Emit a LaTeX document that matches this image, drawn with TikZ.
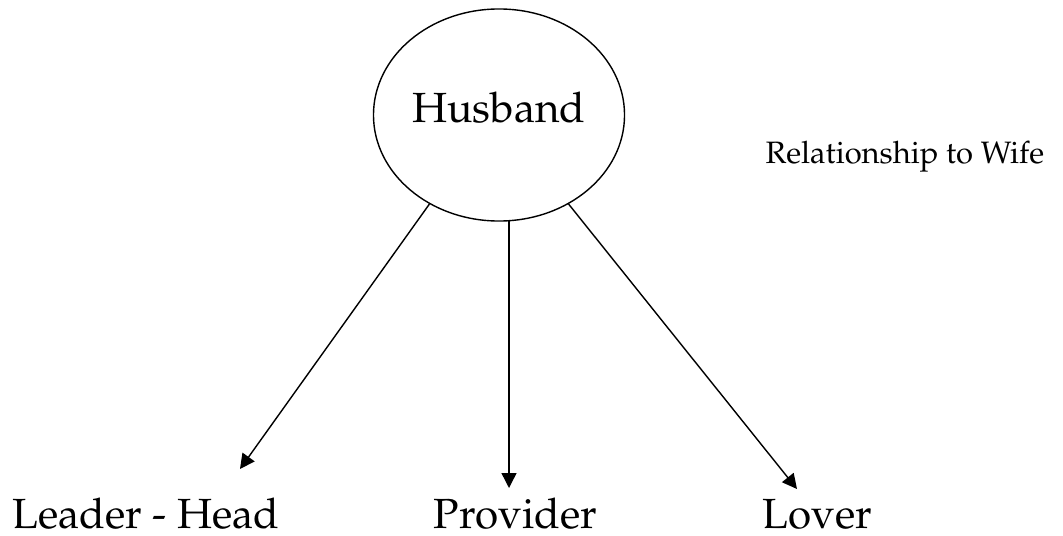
\documentclass[tikz,border=0pt]{standalone}
\usepackage[T1]{fontenc}
\usepackage{mathpazo}
\usetikzlibrary{arrows.meta,shapes.geometric}
\begin{document}
\begin{tikzpicture}[x=0.025cm,y=0.025cm,>={Triangle[length=10.5pt,width=10.5pt]},line width=1pt,
	big/.style={inner sep=0,font=\fontsize{30}{36}\selectfont},
	small/.style={inner sep=0,font=\fontsize{22}{26}\selectfont}]
	\useasboundingbox (0,0) rectangle (1063,535);
	\node[draw,ellipse,minimum width=6.275cm,minimum height=5.3cm,inner sep=0,
		font=\fontsize{30}{36}\selectfont,text height=22pt,text depth=12pt] (hub) at (499,420) {Husband};
	\node[small,anchor=base west] (rel) at (765,372) {Relationship to Wife};
	\node[big,anchor=base west] (leader) at (12,7) {Leader - Head};
	\node[big,anchor=base west] (provider) at (433,7) {Provider};
	\node[big,anchor=base west] (lover) at (762,7) {Lover};
	% free ends of the arrows
	\coordinate (leadtip) at (240,66);
	\coordinate (provtop) at (509,314);
	\coordinate (provtip) at (509,47);
	\coordinate (lovetip) at (797,46);
	\draw[->] (hub.232)--(leadtip);
	\draw[->] (provtop)--(provtip);
	\draw[->] (hub.308)--(lovetip);
\end{tikzpicture}
\end{document}
